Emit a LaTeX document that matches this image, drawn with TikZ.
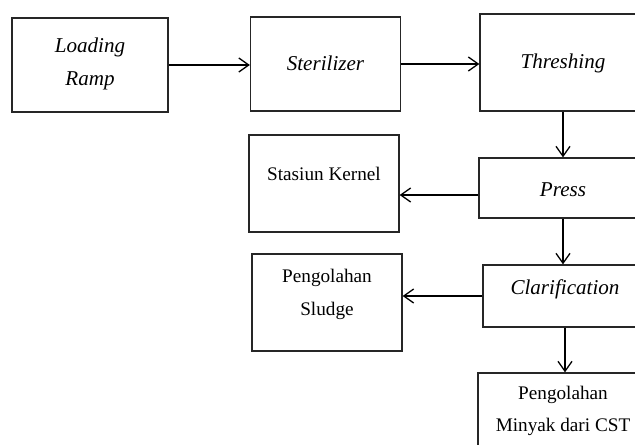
\documentclass[tikz,border=0pt]{standalone}
\usepackage{fontspec}
\setmainfont{Liberation Serif}
\usetikzlibrary{arrows.meta}
\begin{document}
\begin{tikzpicture}[x=.03cm,y=-.03cm,line width=1.1pt,
	>={Straight Barb[length=8.5pt,width=12pt]},
	kotak/.style 2 args={draw=black!85,fill=white,inner sep=0pt,align=center,
		minimum width=#1*.03cm,minimum height=#2*.03cm},
	miring/.style={font=\fontsize{18}{28}\selectfont\itshape},
	tegak/.style={font=\fontsize{16.4}{28}\selectfont},
	naik/.style 2 args={text height=#1,text depth=#2}]% alur proses pabrik kelapa sawit
	\clip (0,0) rectangle (635,445);
	% baris atas
	\node[kotak={156}{94},miring,naik={34.8pt}{0pt}] (ramp) at (90,65) {Loading\\Ramp};
	\node[kotak={150}{94},miring,naik={11pt}{0pt}] (steril) at (325.5,64) {Sterilizer};
	\node[kotak={166}{97},miring,naik={11pt}{0pt}] (thresh) at (563,62.5) {Threshing};
	% kolom kanan
	\node[kotak={168}{60},miring,naik={14.4pt}{0pt}] (press) at (563,188) {Press};
	\node[kotak={164}{62},miring,naik={11pt}{13.7pt}] (clarif) at (565,296) {Clarification};
	\node[kotak={170}{97},tegak,naik={17.6pt}{0pt}] (minyak) at (563,421.5) {Pengolahan\\Minyak dari CST};
	% kolom tengah
	\node[kotak={150}{97},tegak,naik={11pt}{16.2pt}] (kernel) at (324,183.5) {Stasiun Kernel};
	\node[kotak={150}{97},tegak,naik={22pt}{0pt}] (sludge) at (327,302.5) {Pengolahan\\Sludge};
	\coordinate (pk) at ([yshift=-.21cm]press.west);
	\draw[->] (ramp.east) -- (ramp.east -| steril.west);
	\draw[->] (steril.east) -- (steril.east -| thresh.west);
	\draw[->] (thresh.south) -- (thresh.south |- press.north);
	\draw[->] (pk) -- (pk -| kernel.east);
	\draw[->] (press.south) -- (press.south |- clarif.north);
	\draw[->] (clarif.west) -- (clarif.west -| sludge.east);
	\draw[->] (clarif.south) -- (clarif.south |- minyak.north);
\end{tikzpicture}
\end{document}
